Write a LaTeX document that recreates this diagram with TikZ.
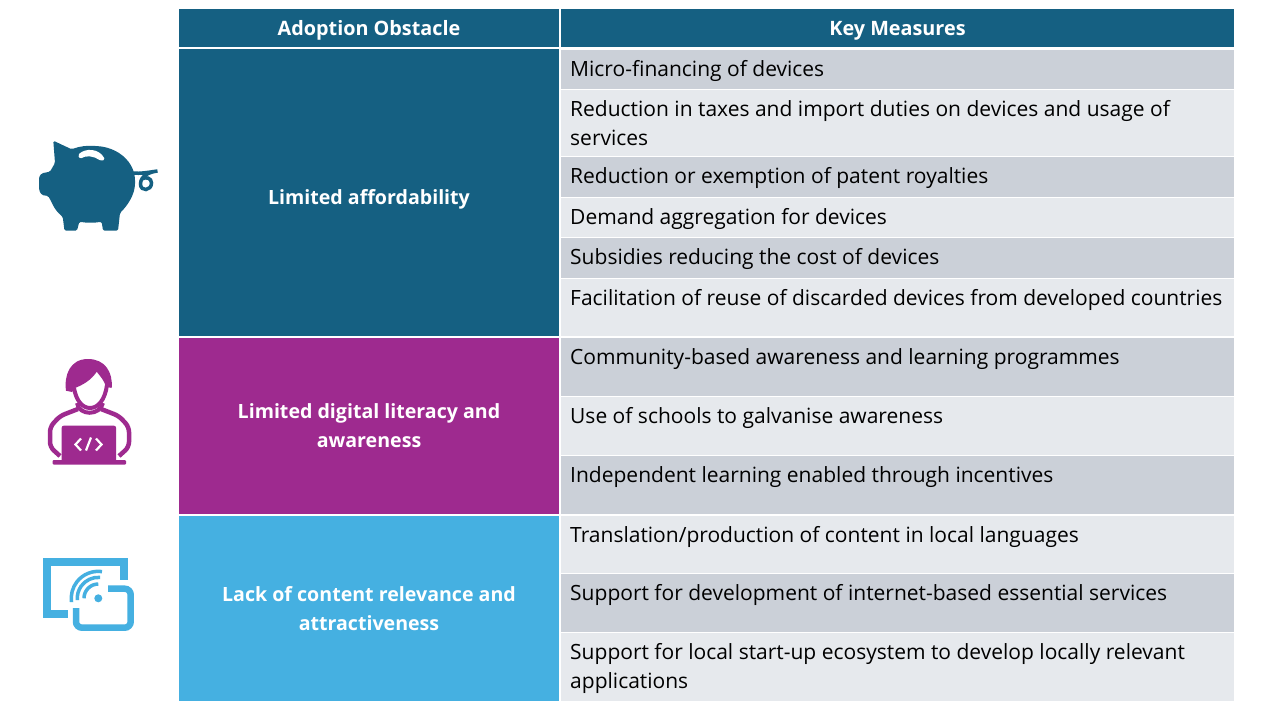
\documentclass[tikz,border=0pt]{standalone}
\usepackage{fontspec}
\setmainfont{Open Sans}
\usetikzlibrary{positioning}
\definecolor{tealhead}{HTML}{156082}
\definecolor{plumcell}{HTML}{9E2A8F}
\definecolor{skycell}{HTML}{45B0E1}
\definecolor{rowdark}{HTML}{CBD0D8}
\definecolor{rowlight}{HTML}{E6E9ED}
\tikzset{
    cell/.style={
        anchor=north west,
        inner sep=0pt,
        outer sep=0pt
    },
    headcell/.style={
        cell,
        fill=tealhead,
        minimum height=38pt,
        text height=19pt,
        text=white,
        font=\fontsize{19.8}{29}\selectfont\bfseries
    },
    obstacle/.style={
        cell,
        minimum width=380pt,
        align=center,
        text=white,
        font=\fontsize{19.6}{29}\selectfont\bfseries
    },
    measure/.style={
        cell,
        minimum width=673pt
    },
    darkrow/.style={measure, fill=rowdark},
    lightrow/.style={measure, fill=rowlight},
    measuretext/.style={
        anchor=north west,
        inner sep=0pt,
        xshift=9pt,
        yshift=-10.3pt,
        align=left,
        font=\fontsize{21}{29}\selectfont
    }
}

\begin{document}
\begin{tikzpicture}[x=1pt, y=-1pt]

    \useasboundingbox[fill=white] (0,0) rectangle (1280,720);

    % Cabecalho
    \node[headcell, minimum width=380pt] (H1) at (179,9) {Adoption Obstacle};
    \node[headcell, minimum width=673pt, right=2pt of H1.north east, anchor=north west] (H2) {Key Measures};

    % Obstaculos
    \node[obstacle, fill=tealhead, minimum height=287pt, text height=29pt] (O1) at (179,49) {Limited affordability};
    \node[obstacle, fill=plumcell, minimum height=176pt, below=2pt of O1.south west, anchor=north west] (O2) {Limited digital literacy and\\awareness};
    \node[obstacle, fill=skycell, minimum height=185pt, below=2pt of O2.south west, anchor=north west] (O3) {Lack of content relevance and\\attractiveness};

    % Medidas
    \node[darkrow, minimum height=39pt] (M1) at (561,50) {};
    \node[lightrow, minimum height=66pt, below=1pt of M1.south west, anchor=north west] (M2) {};
    \node[darkrow, minimum height=40pt, below=1pt of M2.south west, anchor=north west] (M3) {};
    \node[lightrow, minimum height=39pt, below=1pt of M3.south west, anchor=north west] (M4) {};
    \node[darkrow, minimum height=40pt, below=1pt of M4.south west, anchor=north west] (M5) {};
    \node[lightrow, minimum height=57pt, below=1pt of M5.south west, anchor=north west] (M6) {};
    \node[darkrow, minimum height=58pt, below=2pt of M6.south west, anchor=north west] (M7) {};
    \node[lightrow, minimum height=58pt, below=1pt of M7.south west, anchor=north west] (M8) {};
    \node[darkrow, minimum height=58pt, below=1pt of M8.south west, anchor=north west] (M9) {};
    \node[lightrow, minimum height=57pt, below=2pt of M9.south west, anchor=north west] (M10) {};
    \node[darkrow, minimum height=58pt, below=1pt of M10.south west, anchor=north west] (M11) {};
    \node[lightrow, minimum height=68pt, below=1pt of M11.south west, anchor=north west] (M12) {};

    % Textos das medidas
    \node[measuretext] at (M1.north west) {Micro-financing of devices};
    \node[measuretext] at (M2.north west) {Reduction in taxes and import duties on devices and usage of\\services};
    \node[measuretext] at (M3.north west) {Reduction or exemption of patent royalties};
    \node[measuretext] at (M4.north west) {Demand aggregation for devices};
    \node[measuretext] at (M5.north west) {Subsidies reducing the cost of devices};
    \node[measuretext] at (M6.north west) {Facilitation of reuse of discarded devices from developed countries};
    \node[measuretext] at (M7.north west) {Community-based awareness and learning programmes};
    \node[measuretext] at (M8.north west) {Use of schools to galvanise awareness};
    \node[measuretext] at (M9.north west) {Independent learning enabled through incentives};
    \node[measuretext] at (M10.north west) {Translation/production of content in local languages};
    \node[measuretext] at (M11.north west) {Support for development of internet-based essential services};
    \node[measuretext] at (M12.north west) {Support for local start-up ecosystem to develop locally relevant\\applications};

    % Porquinho
    \fill[tealhead, rounded corners=1.5pt] (53.3,140.7) -- (71.7,149.3)
        .. controls (80,146) and (88,145.5) .. (95,146)
        .. controls (118,147) and (135,162) .. (135,182)
        .. controls (135,195) and (127,206) .. (120,213)
        -- (118,230.7) -- (103,230.7) -- (101.7,221.7)
        .. controls (94,223) and (87,223) .. (79.3,221.7)
        -- (77,230.7) -- (64.5,230.7) -- (62.7,216.7)
        .. controls (58,213) and (55,209) .. (53,205)
        -- (48.3,196) -- (41.7,195) -- (39,190) -- (39,177) -- (41.7,173.3) -- (50,171.7) -- (55,163) -- cycle;
    \fill[white, rounded corners=1.5pt] (78,155) .. controls (85,148) and (99,148) .. (105,159.5) -- (101,161) .. controls (94,156) and (86,155) .. (80,159) -- cycle;
    \draw[tealhead, line width=3.5pt, line cap=round] (133,173) .. controls (140,174) and (150,172) .. (157.5,171)
        .. controls (149,172) and (140.5,176) .. (140.5,184) .. controls (140.5,192) and (151.5,191) .. (151.5,183) .. controls (151.5,178) and (146,176.5) .. (142,179);

    % Pessoa com laptop
    \fill[plumcell] (66,390.7) .. controls (64,375) and (70,359) .. (88,359)
        .. controls (105,359) and (113,372) .. (111.7,388)
        -- (106,386.7) .. controls (104,380) and (100,376) .. (96.7,371.7)
        .. controls (94,376) and (88,383) .. (75,388) -- (72,392) -- cycle;
    \draw[plumcell, line width=4pt] (74,388) .. controls (76,400) and (82,408) .. (90,408) .. controls (98,408) and (105,400) .. (107,385);
    \draw[plumcell, line width=4pt] (77,403) .. controls (79,416) and (100,416) .. (103,403);
    \draw[plumcell, line width=4.5pt, rounded corners=5pt] (78,409) -- (60,416) -- (50,427) -- (50,447) -- (60,456);
    \draw[plumcell, line width=4.5pt, rounded corners=5pt] (101,409) -- (119,416) -- (129,427) -- (129,447) -- (119,456);
    \fill[plumcell, rounded corners=2pt] (61.7,425.7) rectangle (116,462);
    \fill[plumcell, rounded corners=1pt] (52.7,460) rectangle (126,464.5);
    \draw[white, line width=2.2pt] (81,438.5) -- (75.5,444.5) -- (81,450.5) (96,438.5) -- (101.5,444.5) -- (96,450.5) (91,437.5) -- (86,450.5);

    % Icone de transmissao
    \draw[skycell, line width=8pt] (67.7,614) -- (46.7,614) -- (46.7,561.7) -- (123.7,561.7) -- (123.7,580);
    \draw[skycell, line width=6.5pt, rounded corners=6pt] (108,588.7) -- (130.7,588.7) -- (130.7,627.7) -- (76,627.7) -- (76,608);
    \fill[skycell] (98.3,598.3) circle (4pt);
    \draw[skycell, line width=3.5pt] (98.3,584) arc[start angle=-90, end angle=-180, radius=14.3];
    \draw[skycell, line width=3.5pt] (100.1,577.4) arc[start angle=-85, end angle=-185, radius=21];
    \draw[skycell, line width=3.5pt] (102,571.6) arc[start angle=-82, end angle=-188, radius=27];

\end{tikzpicture}
\end{document}
